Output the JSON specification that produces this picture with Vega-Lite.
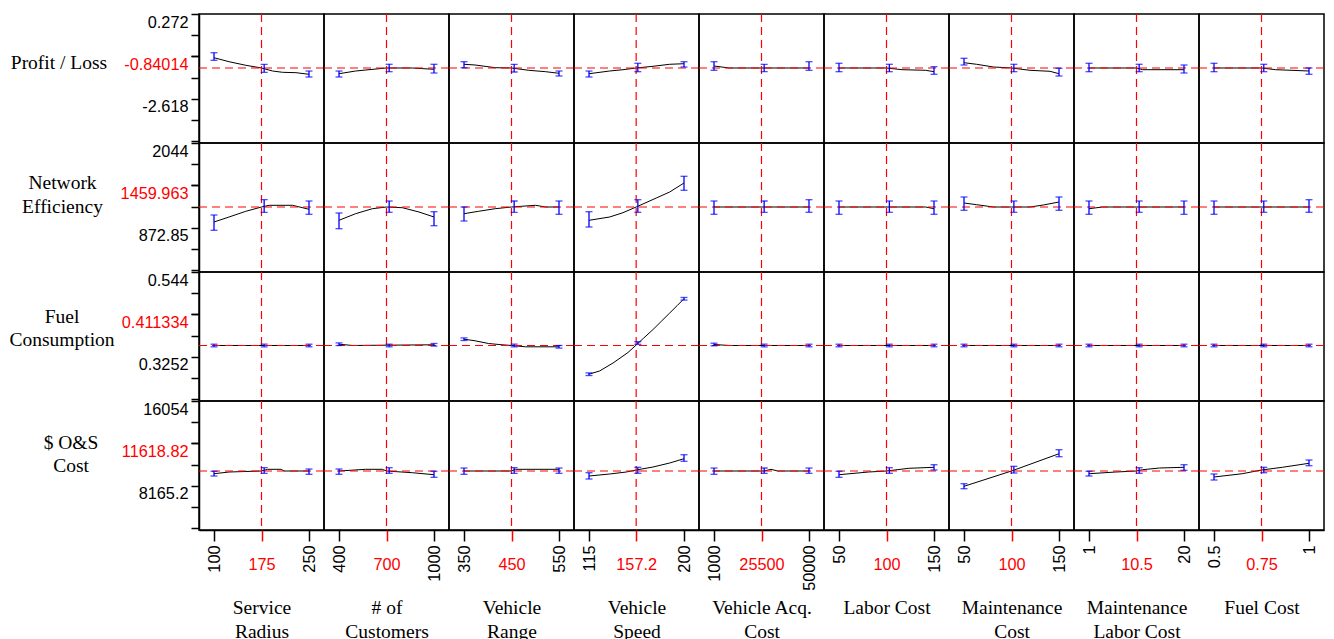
{
"$schema": "https://vega.github.io/schema/vega-lite/v6.json",
"background": "white",
"padding": {"left": 8, "top": 12, "right": 5, "bottom": 0},
"columns": 9,
"spacing": 0,
"bounds": "flush",
"align": "all",
"config": {
  "view": {"stroke": "black", "strokeWidth": 1.5},
  "axis": {"grid": false, "labelFont": "Liberation Sans", "labelFontSize": 16.3, "labelColor": "black", "tickColor": "black", "tickWidth": 1.5, "domainColor": "black", "domainWidth": 1.5, "labelOverlap": false, "labelFlush": false, "labelBound": false, "titleFont": "Liberation Serif", "titleFontSize": 19.5, "titleFontWeight": "normal", "titleColor": "black"},
  "axisX": {"tickSize": 11, "labelPadding": 4, "labelAngle": 270},
  "axisY": {"tickSize": 8, "labelPadding": 3, "labelOffset": 8, "titleAngle": 0, "titleAlign": "center", "titleBaseline": "alphabetic", "titleLineHeight": 23.5}
},
"data": {"values": [
{"r":1,"c":1,"k":"r","x":175,"y":-1.568},
{"r":1,"c":1,"k":"c","x":100,"y":-1.217},{"r":1,"c":1,"k":"c","x":123.8,"y":-1.354},{"r":1,"c":1,"k":"c","x":150.2,"y":-1.476},{"r":1,"c":1,"k":"c","x":175,"y":-1.568},{"r":1,"c":1,"k":"c","x":192.4,"y":-1.671},{"r":1,"c":1,"k":"c","x":208.3,"y":-1.715},{"r":1,"c":1,"k":"c","x":229.4,"y":-1.728},{"r":1,"c":1,"k":"c","x":250,"y":-1.783},
{"r":1,"c":1,"k":"e","x":100,"lo":-1.306,"hi":-1.047},{"r":1,"c":1,"k":"e","x":179.2,"lo":-1.715,"hi":-1.442},{"r":1,"c":1,"k":"e","x":250,"lo":-1.875,"hi":-1.671},
{"r":1,"c":2,"k":"r","x":700,"y":-1.568},
{"r":1,"c":2,"k":"c","x":400,"y":-1.763},{"r":1,"c":2,"k":"c","x":505,"y":-1.671},{"r":1,"c":2,"k":"c","x":589.5,"y":-1.626},{"r":1,"c":2,"k":"c","x":700,"y":-1.568},{"r":1,"c":2,"k":"c","x":863,"y":-1.568},{"r":1,"c":2,"k":"c","x":1000,"y":-1.613},
{"r":1,"c":2,"k":"e","x":400,"lo":-1.875,"hi":-1.671},{"r":1,"c":2,"k":"e","x":716.8,"lo":-1.694,"hi":-1.442},{"r":1,"c":2,"k":"e","x":1000,"lo":-1.739,"hi":-1.442},
{"r":1,"c":3,"k":"r","x":450,"y":-1.568},
{"r":1,"c":3,"k":"c","x":350,"y":-1.442},{"r":1,"c":3,"k":"c","x":373.3,"y":-1.466},{"r":1,"c":3,"k":"c","x":415.7,"y":-1.558},{"r":1,"c":3,"k":"c","x":450,"y":-1.568},{"r":1,"c":3,"k":"c","x":486.4,"y":-1.647},{"r":1,"c":3,"k":"c","x":521.7,"y":-1.694},{"r":1,"c":3,"k":"c","x":550,"y":-1.749},
{"r":1,"c":3,"k":"e","x":350,"lo":-1.558,"hi":-1.354},{"r":1,"c":3,"k":"e","x":455.6,"lo":-1.705,"hi":-1.442},{"r":1,"c":3,"k":"e","x":550,"lo":-1.841,"hi":-1.671},
{"r":1,"c":4,"k":"r","x":157.2,"y":-1.568},
{"r":1,"c":4,"k":"c","x":115,"y":-1.763},{"r":1,"c":4,"k":"c","x":133.5,"y":-1.671},{"r":1,"c":4,"k":"c","x":145.4,"y":-1.626},{"r":1,"c":4,"k":"c","x":157.2,"y":-1.568},{"r":1,"c":4,"k":"c","x":172.3,"y":-1.51},{"r":1,"c":4,"k":"c","x":187.2,"y":-1.442},{"r":1,"c":4,"k":"c","x":200,"y":-1.422},
{"r":1,"c":4,"k":"e","x":115,"lo":-1.875,"hi":-1.671},{"r":1,"c":4,"k":"e","x":158.7,"lo":-1.694,"hi":-1.408},{"r":1,"c":4,"k":"e","x":200,"lo":-1.534,"hi":-1.354},
{"r":1,"c":5,"k":"r","x":25500,"y":-1.568},
{"r":1,"c":5,"k":"c","x":1000,"y":-1.5},{"r":1,"c":5,"k":"c","x":8791,"y":-1.568},{"r":1,"c":5,"k":"c","x":50000,"y":-1.568},
{"r":1,"c":5,"k":"e","x":1000,"lo":-1.647,"hi":-1.354},{"r":1,"c":5,"k":"e","x":26872,"lo":-1.694,"hi":-1.442},{"r":1,"c":5,"k":"e","x":50000,"lo":-1.647,"hi":-1.354},
{"r":1,"c":6,"k":"r","x":100,"y":-1.568},
{"r":1,"c":6,"k":"c","x":50,"y":-1.568},{"r":1,"c":6,"k":"c","x":100,"y":-1.568},{"r":1,"c":6,"k":"c","x":116.4,"y":-1.626},{"r":1,"c":6,"k":"c","x":141.2,"y":-1.647},{"r":1,"c":6,"k":"c","x":150,"y":-1.694},
{"r":1,"c":6,"k":"e","x":50,"lo":-1.694,"hi":-1.408},{"r":1,"c":6,"k":"e","x":103,"lo":-1.694,"hi":-1.442},{"r":1,"c":6,"k":"e","x":150,"lo":-1.783,"hi":-1.524},
{"r":1,"c":7,"k":"r","x":100,"y":-1.568},
{"r":1,"c":7,"k":"c","x":50,"y":-1.388},{"r":1,"c":7,"k":"c","x":63.3,"y":-1.442},{"r":1,"c":7,"k":"c","x":80.9,"y":-1.534},{"r":1,"c":7,"k":"c","x":100,"y":-1.568},{"r":1,"c":7,"k":"c","x":119.5,"y":-1.647},{"r":1,"c":7,"k":"c","x":140.5,"y":-1.681},{"r":1,"c":7,"k":"c","x":150,"y":-1.763},
{"r":1,"c":7,"k":"e","x":50,"lo":-1.466,"hi":-1.238},{"r":1,"c":7,"k":"e","x":102.5,"lo":-1.694,"hi":-1.442},{"r":1,"c":7,"k":"e","x":150,"lo":-1.841,"hi":-1.578},
{"r":1,"c":8,"k":"r","x":10.5,"y":-1.568},
{"r":1,"c":8,"k":"c","x":1,"y":-1.568},{"r":1,"c":8,"k":"c","x":10.5,"y":-1.568},{"r":1,"c":8,"k":"c","x":11.7,"y":-1.626},{"r":1,"c":8,"k":"c","x":20,"y":-1.626},
{"r":1,"c":8,"k":"e","x":1,"lo":-1.694,"hi":-1.408},{"r":1,"c":8,"k":"e","x":11.03,"lo":-1.694,"hi":-1.442},{"r":1,"c":8,"k":"e","x":20,"lo":-1.739,"hi":-1.466},
{"r":1,"c":9,"k":"r","x":0.75,"y":-1.568},
{"r":1,"c":9,"k":"c","x":0.5,"y":-1.568},{"r":1,"c":9,"k":"c","x":0.75,"y":-1.568},{"r":1,"c":9,"k":"c","x":0.8246,"y":-1.626},{"r":1,"c":9,"k":"c","x":1,"y":-1.671},
{"r":1,"c":9,"k":"e","x":0.5,"lo":-1.694,"hi":-1.408},{"r":1,"c":9,"k":"e","x":0.762,"lo":-1.694,"hi":-1.442},{"r":1,"c":9,"k":"e","x":1,"lo":-1.783,"hi":-1.568},

{"r":2,"c":1,"k":"r","x":175,"y":1160.1},
{"r":2,"c":1,"k":"c","x":100,"y":953.0},{"r":2,"c":1,"k":"c","x":123.8,"y":1022.0},{"r":2,"c":1,"k":"c","x":150.2,"y":1100.7},{"r":2,"c":1,"k":"c","x":175,"y":1160.1},{"r":2,"c":1,"k":"c","x":187.1,"y":1183.6},{"r":2,"c":1,"k":"c","x":224.1,"y":1183.6},{"r":2,"c":1,"k":"c","x":250,"y":1128.4},
{"r":2,"c":1,"k":"e","x":100,"lo":838.3,"hi":1049.6},{"r":2,"c":1,"k":"e","x":179.2,"lo":1086.9,"hi":1260.9},{"r":2,"c":1,"k":"e","x":250,"lo":1059.3,"hi":1243.0},
{"r":2,"c":2,"k":"r","x":700,"y":1160.1},
{"r":2,"c":2,"k":"c","x":400,"y":976.4},{"r":2,"c":2,"k":"c","x":505,"y":1067.6},{"r":2,"c":2,"k":"c","x":610.5,"y":1136.6},{"r":2,"c":2,"k":"c","x":700,"y":1160.1},{"r":2,"c":2,"k":"c","x":800,"y":1150.5},{"r":2,"c":2,"k":"c","x":905,"y":1091.1},{"r":2,"c":2,"k":"c","x":1000,"y":1022.0},
{"r":2,"c":2,"k":"e","x":400,"lo":860.4,"hi":1077.2},{"r":2,"c":2,"k":"e","x":716.8,"lo":1086.9,"hi":1243.0},{"r":2,"c":2,"k":"e","x":1000,"lo":901.9,"hi":1095.2},
{"r":2,"c":3,"k":"r","x":450,"y":1160.1},
{"r":2,"c":3,"k":"c","x":350,"y":1067.6},{"r":2,"c":3,"k":"c","x":380.4,"y":1100.7},{"r":2,"c":3,"k":"c","x":415.7,"y":1136.6},{"r":2,"c":3,"k":"c","x":450,"y":1160.1},{"r":2,"c":3,"k":"c","x":500.5,"y":1183.6},{"r":2,"c":3,"k":"c","x":521.7,"y":1160.1},{"r":2,"c":3,"k":"c","x":550,"y":1160.1},
{"r":2,"c":3,"k":"e","x":350,"lo":966.8,"hi":1160.1},{"r":2,"c":3,"k":"e","x":455.6,"lo":1086.9,"hi":1243.0},{"r":2,"c":3,"k":"e","x":550,"lo":1059.3,"hi":1243.0},
{"r":2,"c":4,"k":"r","x":157.2,"y":1160.1},
{"r":2,"c":4,"k":"c","x":115,"y":976.4},{"r":2,"c":4,"k":"c","x":133.5,"y":1022.0},{"r":2,"c":4,"k":"c","x":145.4,"y":1081.4},{"r":2,"c":4,"k":"c","x":157.2,"y":1160.1},{"r":2,"c":4,"k":"c","x":175.2,"y":1284.4},{"r":2,"c":4,"k":"c","x":187.2,"y":1367.3},{"r":2,"c":4,"k":"c","x":200,"y":1491.6},
{"r":2,"c":4,"k":"e","x":115,"lo":883.9,"hi":1095.2},{"r":2,"c":4,"k":"e","x":158.7,"lo":1086.9,"hi":1260.9},{"r":2,"c":4,"k":"e","x":200,"lo":1390.8,"hi":1584.1},
{"r":2,"c":5,"k":"r","x":25500,"y":1160.1},
{"r":2,"c":5,"k":"c","x":1000,"y":1160.1},{"r":2,"c":5,"k":"c","x":50000,"y":1160.1},
{"r":2,"c":5,"k":"e","x":1000,"lo":1059.3,"hi":1243.0},{"r":2,"c":5,"k":"e","x":26872,"lo":1086.9,"hi":1243.0},{"r":2,"c":5,"k":"e","x":50000,"lo":1086.9,"hi":1260.9},
{"r":2,"c":6,"k":"r","x":100,"y":1160.1},
{"r":2,"c":6,"k":"c","x":50,"y":1160.1},{"r":2,"c":6,"k":"c","x":141.2,"y":1160.1},{"r":2,"c":6,"k":"c","x":150,"y":1136.6},
{"r":2,"c":6,"k":"e","x":50,"lo":1059.3,"hi":1243.0},{"r":2,"c":6,"k":"e","x":103,"lo":1086.9,"hi":1243.0},{"r":2,"c":6,"k":"e","x":150,"lo":1059.3,"hi":1243.0},
{"r":2,"c":7,"k":"r","x":100,"y":1160.1},
{"r":2,"c":7,"k":"c","x":50,"y":1215.4},{"r":2,"c":7,"k":"c","x":63.3,"y":1191.9},{"r":2,"c":7,"k":"c","x":80.9,"y":1160.1},{"r":2,"c":7,"k":"c","x":100,"y":1160.1},{"r":2,"c":7,"k":"c","x":119.5,"y":1160.1},{"r":2,"c":7,"k":"c","x":133.5,"y":1187.7},{"r":2,"c":7,"k":"c","x":150,"y":1229.2},
{"r":2,"c":7,"k":"e","x":50,"lo":1114.5,"hi":1298.2},{"r":2,"c":7,"k":"e","x":102.5,"lo":1086.9,"hi":1243.0},{"r":2,"c":7,"k":"e","x":150,"lo":1114.5,"hi":1298.2},
{"r":2,"c":8,"k":"r","x":10.5,"y":1160.1},
{"r":2,"c":8,"k":"c","x":1,"y":1136.6},{"r":2,"c":8,"k":"c","x":3.7,"y":1160.1},{"r":2,"c":8,"k":"c","x":20,"y":1160.1},
{"r":2,"c":8,"k":"e","x":1,"lo":1059.3,"hi":1243.0},{"r":2,"c":8,"k":"e","x":11.03,"lo":1086.9,"hi":1243.0},{"r":2,"c":8,"k":"e","x":20,"lo":1059.3,"hi":1243.0},
{"r":2,"c":9,"k":"r","x":0.75,"y":1160.1},
{"r":2,"c":9,"k":"c","x":0.5,"y":1160.1},{"r":2,"c":9,"k":"c","x":1,"y":1160.1},
{"r":2,"c":9,"k":"e","x":0.5,"lo":1059.3,"hi":1243.0},{"r":2,"c":9,"k":"e","x":0.762,"lo":1086.9,"hi":1243.0},{"r":2,"c":9,"k":"e","x":1,"lo":1086.9,"hi":1260.9},

{"r":3,"c":1,"k":"r","x":175,"y":0.3544},
{"r":3,"c":1,"k":"c","x":100,"y":0.3544},{"r":3,"c":1,"k":"c","x":250,"y":0.3544},
{"r":3,"c":1,"k":"e","x":100,"lo":0.351,"hi":0.3577},{"r":3,"c":1,"k":"e","x":179.2,"lo":0.351,"hi":0.3577},{"r":3,"c":1,"k":"e","x":250,"lo":0.351,"hi":0.3577},
{"r":3,"c":2,"k":"r","x":700,"y":0.3544},
{"r":3,"c":2,"k":"c","x":400,"y":0.3577},{"r":3,"c":2,"k":"c","x":484,"y":0.3544},{"r":3,"c":2,"k":"c","x":1000,"y":0.3562},
{"r":3,"c":2,"k":"e","x":400,"lo":0.3543,"hi":0.3611},{"r":3,"c":2,"k":"e","x":716.8,"lo":0.351,"hi":0.3577},{"r":3,"c":2,"k":"e","x":1000,"lo":0.3528,"hi":0.3596},
{"r":3,"c":3,"k":"r","x":450,"y":0.3544},
{"r":3,"c":3,"k":"c","x":350,"y":0.3706},{"r":3,"c":3,"k":"c","x":373.3,"y":0.3665},{"r":3,"c":3,"k":"c","x":401.6,"y":0.3595},{"r":3,"c":3,"k":"c","x":429.9,"y":0.3562},{"r":3,"c":3,"k":"c","x":450,"y":0.3544},{"r":3,"c":3,"k":"c","x":479.3,"y":0.351},{"r":3,"c":3,"k":"c","x":550,"y":0.351},
{"r":3,"c":3,"k":"e","x":350,"lo":0.3672,"hi":0.374},{"r":3,"c":3,"k":"e","x":455.6,"lo":0.351,"hi":0.3577},{"r":3,"c":3,"k":"e","x":550,"lo":0.3476,"hi":0.3544},
{"r":3,"c":4,"k":"r","x":157.2,"y":0.3544},
{"r":3,"c":4,"k":"c","x":115,"y":0.2803},{"r":3,"c":4,"k":"c","x":124.5,"y":0.2886},{"r":3,"c":4,"k":"c","x":136.5,"y":0.3092},{"r":3,"c":4,"k":"c","x":149.9,"y":0.3363},{"r":3,"c":4,"k":"c","x":157.2,"y":0.3556},{"r":3,"c":4,"k":"c","x":164,"y":0.3737},{"r":3,"c":4,"k":"c","x":172.3,"y":0.3956},{"r":3,"c":4,"k":"c","x":180,"y":0.4176},{"r":3,"c":4,"k":"c","x":187.2,"y":0.4382},{"r":3,"c":4,"k":"c","x":194,"y":0.4576},{"r":3,"c":4,"k":"c","x":200,"y":0.4749},
{"r":3,"c":4,"k":"e","x":115,"lo":0.2769,"hi":0.2837},{"r":3,"c":4,"k":"e","x":158.7,"lo":0.3574,"hi":0.3642},{"r":3,"c":4,"k":"e","x":200,"lo":0.4715,"hi":0.4783},
{"r":3,"c":5,"k":"r","x":25500,"y":0.3544},
{"r":3,"c":5,"k":"c","x":1000,"y":0.3569},{"r":3,"c":5,"k":"c","x":8791,"y":0.3544},{"r":3,"c":5,"k":"c","x":50000,"y":0.3544},
{"r":3,"c":5,"k":"e","x":1000,"lo":0.3535,"hi":0.3603},{"r":3,"c":5,"k":"e","x":26872,"lo":0.351,"hi":0.3577},{"r":3,"c":5,"k":"e","x":50000,"lo":0.351,"hi":0.3577},
{"r":3,"c":6,"k":"r","x":100,"y":0.3544},
{"r":3,"c":6,"k":"c","x":50,"y":0.3544},{"r":3,"c":6,"k":"c","x":150,"y":0.3544},
{"r":3,"c":6,"k":"e","x":50,"lo":0.351,"hi":0.3577},{"r":3,"c":6,"k":"e","x":103,"lo":0.351,"hi":0.3577},{"r":3,"c":6,"k":"e","x":150,"lo":0.351,"hi":0.3577},
{"r":3,"c":7,"k":"r","x":100,"y":0.3544},
{"r":3,"c":7,"k":"c","x":50,"y":0.3544},{"r":3,"c":7,"k":"c","x":150,"y":0.3544},
{"r":3,"c":7,"k":"e","x":50,"lo":0.351,"hi":0.3577},{"r":3,"c":7,"k":"e","x":102.5,"lo":0.351,"hi":0.3577},{"r":3,"c":7,"k":"e","x":150,"lo":0.351,"hi":0.3577},
{"r":3,"c":8,"k":"r","x":10.5,"y":0.3544},
{"r":3,"c":8,"k":"c","x":1,"y":0.3544},{"r":3,"c":8,"k":"c","x":20,"y":0.3544},
{"r":3,"c":8,"k":"e","x":1,"lo":0.351,"hi":0.3577},{"r":3,"c":8,"k":"e","x":11.03,"lo":0.351,"hi":0.3577},{"r":3,"c":8,"k":"e","x":20,"lo":0.351,"hi":0.3577},
{"r":3,"c":9,"k":"r","x":0.75,"y":0.3544},
{"r":3,"c":9,"k":"c","x":0.5,"y":0.3544},{"r":3,"c":9,"k":"c","x":1,"y":0.3544},
{"r":3,"c":9,"k":"e","x":0.5,"lo":0.351,"hi":0.3577},{"r":3,"c":9,"k":"e","x":0.762,"lo":0.351,"hi":0.3577},{"r":3,"c":9,"k":"e","x":1,"lo":0.351,"hi":0.3577},

{"r":4,"c":1,"k":"r","x":175,"y":9541},
{"r":4,"c":1,"k":"c","x":100,"y":9289.8},{"r":4,"c":1,"k":"c","x":123.8,"y":9448.0},{"r":4,"c":1,"k":"c","x":175,"y":9541},{"r":4,"c":1,"k":"c","x":184.5,"y":9699.1},{"r":4,"c":1,"k":"c","x":205.6,"y":9699.1},{"r":4,"c":1,"k":"c","x":210.9,"y":9541},{"r":4,"c":1,"k":"c","x":250,"y":9541},
{"r":4,"c":1,"k":"e","x":100,"lo":9075.9,"hi":9513.1},{"r":4,"c":1,"k":"e","x":179.2,"lo":9327.0,"hi":9848.0},{"r":4,"c":1,"k":"e","x":250,"lo":9234.0,"hi":9727.1},
{"r":4,"c":2,"k":"r","x":700,"y":9541},
{"r":4,"c":2,"k":"c","x":400,"y":9541},{"r":4,"c":2,"k":"c","x":568.4,"y":9699.1},{"r":4,"c":2,"k":"c","x":673.7,"y":9699.1},{"r":4,"c":2,"k":"c","x":700,"y":9541},{"r":4,"c":2,"k":"c","x":863,"y":9382.9},{"r":4,"c":2,"k":"c","x":1000,"y":9196.8},
{"r":4,"c":2,"k":"e","x":400,"lo":9234.0,"hi":9727.1},{"r":4,"c":2,"k":"e","x":716.8,"lo":9327.0,"hi":9848.0},{"r":4,"c":2,"k":"e","x":1000,"lo":8954.9,"hi":9513.1},
{"r":4,"c":3,"k":"r","x":450,"y":9541},
{"r":4,"c":3,"k":"c","x":350,"y":9541},{"r":4,"c":3,"k":"c","x":450,"y":9541},{"r":4,"c":3,"k":"c","x":458.1,"y":9699.1},{"r":4,"c":3,"k":"c","x":550,"y":9699.1},
{"r":4,"c":3,"k":"e","x":350,"lo":9234.0,"hi":9820.1},{"r":4,"c":3,"k":"e","x":455.6,"lo":9327.0,"hi":9848.0},{"r":4,"c":3,"k":"e","x":550,"lo":9327.0,"hi":9820.1},
{"r":4,"c":4,"k":"r","x":157.2,"y":9541},
{"r":4,"c":4,"k":"c","x":115,"y":9075.9},{"r":4,"c":4,"k":"c","x":133.5,"y":9261.9},{"r":4,"c":4,"k":"c","x":148.4,"y":9448.0},{"r":4,"c":4,"k":"c","x":157.2,"y":9634.0},{"r":4,"c":4,"k":"c","x":172.3,"y":9913.1},{"r":4,"c":4,"k":"c","x":187.2,"y":10285.2},{"r":4,"c":4,"k":"c","x":200,"y":10685.2},
{"r":4,"c":4,"k":"e","x":115,"lo":8796.8,"hi":9382.9},{"r":4,"c":4,"k":"e","x":158.7,"lo":9327.0,"hi":9885.2},{"r":4,"c":4,"k":"e","x":200,"lo":10443.4,"hi":11057.4},
{"r":4,"c":5,"k":"r","x":25500,"y":9541},
{"r":4,"c":5,"k":"c","x":1000,"y":9541},{"r":4,"c":5,"k":"c","x":26872,"y":9541},{"r":4,"c":5,"k":"c","x":30400,"y":9699.1},{"r":4,"c":5,"k":"c","x":33880,"y":9541},{"r":4,"c":5,"k":"c","x":50000,"y":9541},
{"r":4,"c":5,"k":"e","x":1000,"lo":9234.0,"hi":9820.1},{"r":4,"c":5,"k":"e","x":26872,"lo":9327.0,"hi":9820.1},{"r":4,"c":5,"k":"e","x":50000,"lo":9327.0,"hi":9820.1},
{"r":4,"c":6,"k":"r","x":100,"y":9541},
{"r":4,"c":6,"k":"c","x":50,"y":9196.8},{"r":4,"c":6,"k":"c","x":81.1,"y":9448.0},{"r":4,"c":6,"k":"c","x":100,"y":9541},{"r":4,"c":6,"k":"c","x":123.5,"y":9792.2},{"r":4,"c":6,"k":"c","x":150,"y":9885.2},
{"r":4,"c":6,"k":"e","x":50,"lo":8954.9,"hi":9513.1},{"r":4,"c":6,"k":"e","x":103,"lo":9327.0,"hi":9848.0},{"r":4,"c":6,"k":"e","x":150,"lo":9634.0,"hi":10127.1},
{"r":4,"c":7,"k":"r","x":100,"y":9541},
{"r":4,"c":7,"k":"c","x":50,"y":8117.7},{"r":4,"c":7,"k":"c","x":100,"y":9541},{"r":4,"c":7,"k":"c","x":150,"y":11150.4},
{"r":4,"c":7,"k":"e","x":50,"lo":7894.4,"hi":8359.5},{"r":4,"c":7,"k":"e","x":102.5,"lo":9354.9,"hi":9978.2},{"r":4,"c":7,"k":"e","x":150,"lo":10871.3,"hi":11522.5},
{"r":4,"c":8,"k":"r","x":10.5,"y":9541},
{"r":4,"c":8,"k":"c","x":1,"y":9289.8},{"r":4,"c":8,"k":"c","x":6.37,"y":9448.0},{"r":4,"c":8,"k":"c","x":10.5,"y":9541},{"r":4,"c":8,"k":"c","x":11.7,"y":9661.9},{"r":4,"c":8,"k":"c","x":15.1,"y":9820.1},{"r":4,"c":8,"k":"c","x":20,"y":9885.2},
{"r":4,"c":8,"k":"e","x":1,"lo":9075.9,"hi":9513.1},{"r":4,"c":8,"k":"e","x":11.03,"lo":9327.0,"hi":9848.0},{"r":4,"c":8,"k":"e","x":20,"lo":9606.1,"hi":10127.1},
{"r":4,"c":9,"k":"r","x":0.75,"y":9541},
{"r":4,"c":9,"k":"c","x":0.5,"y":8982.8},{"r":4,"c":9,"k":"c","x":0.649,"y":9289.8},{"r":4,"c":9,"k":"c","x":0.75,"y":9634.0},{"r":4,"c":9,"k":"c","x":0.8596,"y":9885.2},{"r":4,"c":9,"k":"c","x":1,"y":10257.3},
{"r":4,"c":9,"k":"e","x":0.5,"lo":8703.7,"hi":9261.9},{"r":4,"c":9,"k":"e","x":0.762,"lo":9382.9,"hi":9885.2},{"r":4,"c":9,"k":"e","x":1,"lo":10034.0,"hi":10564.3}
]},
"concat": [
{"width":125,"height":129,"transform":[{"filter":"datum.r==1&&datum.c==1"}],"resolve":{"axis":{"y":"independent"}},"layer":[
{"transform":[{"filter":"datum.k=='c'"}],"mark":{"type":"line","color":"black","strokeWidth":1},"encoding":{"x":{"field":"x","type":"quantitative","scale":{"domain":[100,250],"padding":15,"zero":false,"nice":false},"axis":null},"y":{"field":"y","type":"quantitative","scale":{"domain":[-4.1244,0.272],"zero":false,"nice":false},"axis":{"orient":"left","values":[0.272,-0.4505,-1.173,-1.8955,-2.618,-3.3405,-4.063],"labelExpr":"datum.value==0.272?'0.272':datum.value==-2.618?'-2.618':''","title":"Profit / Loss","titleX":-140.5,"titleY":54.5}}}},
{"transform":[{"filter":"datum.k=='r'"}],"mark":{"type":"rule","color":"#ff0000","strokeDash":[8,5],"strokeWidth":1.2},"encoding":{"y":{"field":"y","type":"quantitative","axis":{"orient":"left","values":[-1.173],"labelExpr":"'-0.84014'","labelColor":"#ff0000","domain":false,"title":null}}}},
{"transform":[{"filter":"datum.k=='r'"}],"mark":{"type":"rule","color":"#ff0000","strokeDash":[8,5],"strokeWidth":1.2},"encoding":{"x":{"field":"x","type":"quantitative","axis":null}}},
{"transform":[{"filter":"datum.k=='e'"}],"mark":{"type":"errorbar","ticks":true,"color":"#0000ff","size":7,"thickness":1.3},"encoding":{"x":{"field":"x","type":"quantitative","axis":null},"y":{"field":"lo","type":"quantitative","axis":null},"y2":{"field":"hi"}}}
]},
{"width":125,"height":129,"transform":[{"filter":"datum.r==1&&datum.c==2"}],"layer":[
{"transform":[{"filter":"datum.k=='c'"}],"mark":{"type":"line","color":"black","strokeWidth":1},"encoding":{"x":{"field":"x","type":"quantitative","scale":{"domain":[400,1000],"padding":15,"zero":false,"nice":false},"axis":null},"y":{"field":"y","type":"quantitative","scale":{"domain":[-4.1244,0.272],"zero":false,"nice":false},"axis":null}}},
{"transform":[{"filter":"datum.k=='r'"}],"mark":{"type":"rule","color":"#ff0000","strokeDash":[8,5],"strokeWidth":1.2},"encoding":{"y":{"field":"y","type":"quantitative","axis":null}}},
{"transform":[{"filter":"datum.k=='r'"}],"mark":{"type":"rule","color":"#ff0000","strokeDash":[8,5],"strokeWidth":1.2},"encoding":{"x":{"field":"x","type":"quantitative","axis":null}}},
{"transform":[{"filter":"datum.k=='e'"}],"mark":{"type":"errorbar","ticks":true,"color":"#0000ff","size":7,"thickness":1.3},"encoding":{"x":{"field":"x","type":"quantitative","axis":null},"y":{"field":"lo","type":"quantitative","axis":null},"y2":{"field":"hi"}}}
]},
{"width":125,"height":129,"transform":[{"filter":"datum.r==1&&datum.c==3"}],"layer":[
{"transform":[{"filter":"datum.k=='c'"}],"mark":{"type":"line","color":"black","strokeWidth":1},"encoding":{"x":{"field":"x","type":"quantitative","scale":{"domain":[350,550],"padding":15,"zero":false,"nice":false},"axis":null},"y":{"field":"y","type":"quantitative","scale":{"domain":[-4.1244,0.272],"zero":false,"nice":false},"axis":null}}},
{"transform":[{"filter":"datum.k=='r'"}],"mark":{"type":"rule","color":"#ff0000","strokeDash":[8,5],"strokeWidth":1.2},"encoding":{"y":{"field":"y","type":"quantitative","axis":null}}},
{"transform":[{"filter":"datum.k=='r'"}],"mark":{"type":"rule","color":"#ff0000","strokeDash":[8,5],"strokeWidth":1.2},"encoding":{"x":{"field":"x","type":"quantitative","axis":null}}},
{"transform":[{"filter":"datum.k=='e'"}],"mark":{"type":"errorbar","ticks":true,"color":"#0000ff","size":7,"thickness":1.3},"encoding":{"x":{"field":"x","type":"quantitative","axis":null},"y":{"field":"lo","type":"quantitative","axis":null},"y2":{"field":"hi"}}}
]},
{"width":125,"height":129,"transform":[{"filter":"datum.r==1&&datum.c==4"}],"layer":[
{"transform":[{"filter":"datum.k=='c'"}],"mark":{"type":"line","color":"black","strokeWidth":1},"encoding":{"x":{"field":"x","type":"quantitative","scale":{"domain":[115,200],"padding":15,"zero":false,"nice":false},"axis":null},"y":{"field":"y","type":"quantitative","scale":{"domain":[-4.1244,0.272],"zero":false,"nice":false},"axis":null}}},
{"transform":[{"filter":"datum.k=='r'"}],"mark":{"type":"rule","color":"#ff0000","strokeDash":[8,5],"strokeWidth":1.2},"encoding":{"y":{"field":"y","type":"quantitative","axis":null}}},
{"transform":[{"filter":"datum.k=='r'"}],"mark":{"type":"rule","color":"#ff0000","strokeDash":[8,5],"strokeWidth":1.2},"encoding":{"x":{"field":"x","type":"quantitative","axis":null}}},
{"transform":[{"filter":"datum.k=='e'"}],"mark":{"type":"errorbar","ticks":true,"color":"#0000ff","size":7,"thickness":1.3},"encoding":{"x":{"field":"x","type":"quantitative","axis":null},"y":{"field":"lo","type":"quantitative","axis":null},"y2":{"field":"hi"}}}
]},
{"width":125,"height":129,"transform":[{"filter":"datum.r==1&&datum.c==5"}],"layer":[
{"transform":[{"filter":"datum.k=='c'"}],"mark":{"type":"line","color":"black","strokeWidth":1},"encoding":{"x":{"field":"x","type":"quantitative","scale":{"domain":[1000,50000],"padding":15,"zero":false,"nice":false},"axis":null},"y":{"field":"y","type":"quantitative","scale":{"domain":[-4.1244,0.272],"zero":false,"nice":false},"axis":null}}},
{"transform":[{"filter":"datum.k=='r'"}],"mark":{"type":"rule","color":"#ff0000","strokeDash":[8,5],"strokeWidth":1.2},"encoding":{"y":{"field":"y","type":"quantitative","axis":null}}},
{"transform":[{"filter":"datum.k=='r'"}],"mark":{"type":"rule","color":"#ff0000","strokeDash":[8,5],"strokeWidth":1.2},"encoding":{"x":{"field":"x","type":"quantitative","axis":null}}},
{"transform":[{"filter":"datum.k=='e'"}],"mark":{"type":"errorbar","ticks":true,"color":"#0000ff","size":7,"thickness":1.3},"encoding":{"x":{"field":"x","type":"quantitative","axis":null},"y":{"field":"lo","type":"quantitative","axis":null},"y2":{"field":"hi"}}}
]},
{"width":125,"height":129,"transform":[{"filter":"datum.r==1&&datum.c==6"}],"layer":[
{"transform":[{"filter":"datum.k=='c'"}],"mark":{"type":"line","color":"black","strokeWidth":1},"encoding":{"x":{"field":"x","type":"quantitative","scale":{"domain":[50,150],"padding":15,"zero":false,"nice":false},"axis":null},"y":{"field":"y","type":"quantitative","scale":{"domain":[-4.1244,0.272],"zero":false,"nice":false},"axis":null}}},
{"transform":[{"filter":"datum.k=='r'"}],"mark":{"type":"rule","color":"#ff0000","strokeDash":[8,5],"strokeWidth":1.2},"encoding":{"y":{"field":"y","type":"quantitative","axis":null}}},
{"transform":[{"filter":"datum.k=='r'"}],"mark":{"type":"rule","color":"#ff0000","strokeDash":[8,5],"strokeWidth":1.2},"encoding":{"x":{"field":"x","type":"quantitative","axis":null}}},
{"transform":[{"filter":"datum.k=='e'"}],"mark":{"type":"errorbar","ticks":true,"color":"#0000ff","size":7,"thickness":1.3},"encoding":{"x":{"field":"x","type":"quantitative","axis":null},"y":{"field":"lo","type":"quantitative","axis":null},"y2":{"field":"hi"}}}
]},
{"width":125,"height":129,"transform":[{"filter":"datum.r==1&&datum.c==7"}],"layer":[
{"transform":[{"filter":"datum.k=='c'"}],"mark":{"type":"line","color":"black","strokeWidth":1},"encoding":{"x":{"field":"x","type":"quantitative","scale":{"domain":[50,150],"padding":15,"zero":false,"nice":false},"axis":null},"y":{"field":"y","type":"quantitative","scale":{"domain":[-4.1244,0.272],"zero":false,"nice":false},"axis":null}}},
{"transform":[{"filter":"datum.k=='r'"}],"mark":{"type":"rule","color":"#ff0000","strokeDash":[8,5],"strokeWidth":1.2},"encoding":{"y":{"field":"y","type":"quantitative","axis":null}}},
{"transform":[{"filter":"datum.k=='r'"}],"mark":{"type":"rule","color":"#ff0000","strokeDash":[8,5],"strokeWidth":1.2},"encoding":{"x":{"field":"x","type":"quantitative","axis":null}}},
{"transform":[{"filter":"datum.k=='e'"}],"mark":{"type":"errorbar","ticks":true,"color":"#0000ff","size":7,"thickness":1.3},"encoding":{"x":{"field":"x","type":"quantitative","axis":null},"y":{"field":"lo","type":"quantitative","axis":null},"y2":{"field":"hi"}}}
]},
{"width":125,"height":129,"transform":[{"filter":"datum.r==1&&datum.c==8"}],"layer":[
{"transform":[{"filter":"datum.k=='c'"}],"mark":{"type":"line","color":"black","strokeWidth":1},"encoding":{"x":{"field":"x","type":"quantitative","scale":{"domain":[1,20],"padding":15,"zero":false,"nice":false},"axis":null},"y":{"field":"y","type":"quantitative","scale":{"domain":[-4.1244,0.272],"zero":false,"nice":false},"axis":null}}},
{"transform":[{"filter":"datum.k=='r'"}],"mark":{"type":"rule","color":"#ff0000","strokeDash":[8,5],"strokeWidth":1.2},"encoding":{"y":{"field":"y","type":"quantitative","axis":null}}},
{"transform":[{"filter":"datum.k=='r'"}],"mark":{"type":"rule","color":"#ff0000","strokeDash":[8,5],"strokeWidth":1.2},"encoding":{"x":{"field":"x","type":"quantitative","axis":null}}},
{"transform":[{"filter":"datum.k=='e'"}],"mark":{"type":"errorbar","ticks":true,"color":"#0000ff","size":7,"thickness":1.3},"encoding":{"x":{"field":"x","type":"quantitative","axis":null},"y":{"field":"lo","type":"quantitative","axis":null},"y2":{"field":"hi"}}}
]},
{"width":125,"height":129,"transform":[{"filter":"datum.r==1&&datum.c==9"}],"layer":[
{"transform":[{"filter":"datum.k=='c'"}],"mark":{"type":"line","color":"black","strokeWidth":1},"encoding":{"x":{"field":"x","type":"quantitative","scale":{"domain":[0.5,1],"padding":15,"zero":false,"nice":false},"axis":null},"y":{"field":"y","type":"quantitative","scale":{"domain":[-4.1244,0.272],"zero":false,"nice":false},"axis":null}}},
{"transform":[{"filter":"datum.k=='r'"}],"mark":{"type":"rule","color":"#ff0000","strokeDash":[8,5],"strokeWidth":1.2},"encoding":{"y":{"field":"y","type":"quantitative","axis":null}}},
{"transform":[{"filter":"datum.k=='r'"}],"mark":{"type":"rule","color":"#ff0000","strokeDash":[8,5],"strokeWidth":1.2},"encoding":{"x":{"field":"x","type":"quantitative","axis":null}}},
{"transform":[{"filter":"datum.k=='e'"}],"mark":{"type":"errorbar","ticks":true,"color":"#0000ff","size":7,"thickness":1.3},"encoding":{"x":{"field":"x","type":"quantitative","axis":null},"y":{"field":"lo","type":"quantitative","axis":null},"y2":{"field":"hi"}}}
]},

{"width":125,"height":129,"transform":[{"filter":"datum.r==2&&datum.c==1"}],"resolve":{"axis":{"y":"independent"}},"layer":[
{"transform":[{"filter":"datum.k=='c'"}],"mark":{"type":"line","color":"black","strokeWidth":1},"encoding":{"x":{"field":"x","type":"quantitative","scale":{"domain":[100,250],"padding":15,"zero":false,"nice":false},"axis":null},"y":{"field":"y","type":"quantitative","scale":{"domain":[262.39,2044],"zero":false,"nice":false},"axis":{"orient":"left","values":[2044,1751.2125,1458.425,1165.6375,872.85,580.0625,287.275],"labelExpr":"datum.value==2044?'2044':datum.value==872.85?'872.85':''","title":["Network","Efficiency"],"titleX":-137,"titleY":45.6}}}},
{"transform":[{"filter":"datum.k=='r'"}],"mark":{"type":"rule","color":"#ff0000","strokeDash":[8,5],"strokeWidth":1.2},"encoding":{"y":{"field":"y","type":"quantitative","axis":{"orient":"left","values":[1458.425],"labelExpr":"'1459.963'","labelColor":"#ff0000","domain":false,"title":null}}}},
{"transform":[{"filter":"datum.k=='r'"}],"mark":{"type":"rule","color":"#ff0000","strokeDash":[8,5],"strokeWidth":1.2},"encoding":{"x":{"field":"x","type":"quantitative","axis":null}}},
{"transform":[{"filter":"datum.k=='e'"}],"mark":{"type":"errorbar","ticks":true,"color":"#0000ff","size":7,"thickness":1.3},"encoding":{"x":{"field":"x","type":"quantitative","axis":null},"y":{"field":"lo","type":"quantitative","axis":null},"y2":{"field":"hi"}}}
]},
{"width":125,"height":129,"transform":[{"filter":"datum.r==2&&datum.c==2"}],"layer":[
{"transform":[{"filter":"datum.k=='c'"}],"mark":{"type":"line","color":"black","strokeWidth":1},"encoding":{"x":{"field":"x","type":"quantitative","scale":{"domain":[400,1000],"padding":15,"zero":false,"nice":false},"axis":null},"y":{"field":"y","type":"quantitative","scale":{"domain":[262.39,2044],"zero":false,"nice":false},"axis":null}}},
{"transform":[{"filter":"datum.k=='r'"}],"mark":{"type":"rule","color":"#ff0000","strokeDash":[8,5],"strokeWidth":1.2},"encoding":{"y":{"field":"y","type":"quantitative","axis":null}}},
{"transform":[{"filter":"datum.k=='r'"}],"mark":{"type":"rule","color":"#ff0000","strokeDash":[8,5],"strokeWidth":1.2},"encoding":{"x":{"field":"x","type":"quantitative","axis":null}}},
{"transform":[{"filter":"datum.k=='e'"}],"mark":{"type":"errorbar","ticks":true,"color":"#0000ff","size":7,"thickness":1.3},"encoding":{"x":{"field":"x","type":"quantitative","axis":null},"y":{"field":"lo","type":"quantitative","axis":null},"y2":{"field":"hi"}}}
]},
{"width":125,"height":129,"transform":[{"filter":"datum.r==2&&datum.c==3"}],"layer":[
{"transform":[{"filter":"datum.k=='c'"}],"mark":{"type":"line","color":"black","strokeWidth":1},"encoding":{"x":{"field":"x","type":"quantitative","scale":{"domain":[350,550],"padding":15,"zero":false,"nice":false},"axis":null},"y":{"field":"y","type":"quantitative","scale":{"domain":[262.39,2044],"zero":false,"nice":false},"axis":null}}},
{"transform":[{"filter":"datum.k=='r'"}],"mark":{"type":"rule","color":"#ff0000","strokeDash":[8,5],"strokeWidth":1.2},"encoding":{"y":{"field":"y","type":"quantitative","axis":null}}},
{"transform":[{"filter":"datum.k=='r'"}],"mark":{"type":"rule","color":"#ff0000","strokeDash":[8,5],"strokeWidth":1.2},"encoding":{"x":{"field":"x","type":"quantitative","axis":null}}},
{"transform":[{"filter":"datum.k=='e'"}],"mark":{"type":"errorbar","ticks":true,"color":"#0000ff","size":7,"thickness":1.3},"encoding":{"x":{"field":"x","type":"quantitative","axis":null},"y":{"field":"lo","type":"quantitative","axis":null},"y2":{"field":"hi"}}}
]},
{"width":125,"height":129,"transform":[{"filter":"datum.r==2&&datum.c==4"}],"layer":[
{"transform":[{"filter":"datum.k=='c'"}],"mark":{"type":"line","color":"black","strokeWidth":1},"encoding":{"x":{"field":"x","type":"quantitative","scale":{"domain":[115,200],"padding":15,"zero":false,"nice":false},"axis":null},"y":{"field":"y","type":"quantitative","scale":{"domain":[262.39,2044],"zero":false,"nice":false},"axis":null}}},
{"transform":[{"filter":"datum.k=='r'"}],"mark":{"type":"rule","color":"#ff0000","strokeDash":[8,5],"strokeWidth":1.2},"encoding":{"y":{"field":"y","type":"quantitative","axis":null}}},
{"transform":[{"filter":"datum.k=='r'"}],"mark":{"type":"rule","color":"#ff0000","strokeDash":[8,5],"strokeWidth":1.2},"encoding":{"x":{"field":"x","type":"quantitative","axis":null}}},
{"transform":[{"filter":"datum.k=='e'"}],"mark":{"type":"errorbar","ticks":true,"color":"#0000ff","size":7,"thickness":1.3},"encoding":{"x":{"field":"x","type":"quantitative","axis":null},"y":{"field":"lo","type":"quantitative","axis":null},"y2":{"field":"hi"}}}
]},
{"width":125,"height":129,"transform":[{"filter":"datum.r==2&&datum.c==5"}],"layer":[
{"transform":[{"filter":"datum.k=='c'"}],"mark":{"type":"line","color":"black","strokeWidth":1},"encoding":{"x":{"field":"x","type":"quantitative","scale":{"domain":[1000,50000],"padding":15,"zero":false,"nice":false},"axis":null},"y":{"field":"y","type":"quantitative","scale":{"domain":[262.39,2044],"zero":false,"nice":false},"axis":null}}},
{"transform":[{"filter":"datum.k=='r'"}],"mark":{"type":"rule","color":"#ff0000","strokeDash":[8,5],"strokeWidth":1.2},"encoding":{"y":{"field":"y","type":"quantitative","axis":null}}},
{"transform":[{"filter":"datum.k=='r'"}],"mark":{"type":"rule","color":"#ff0000","strokeDash":[8,5],"strokeWidth":1.2},"encoding":{"x":{"field":"x","type":"quantitative","axis":null}}},
{"transform":[{"filter":"datum.k=='e'"}],"mark":{"type":"errorbar","ticks":true,"color":"#0000ff","size":7,"thickness":1.3},"encoding":{"x":{"field":"x","type":"quantitative","axis":null},"y":{"field":"lo","type":"quantitative","axis":null},"y2":{"field":"hi"}}}
]},
{"width":125,"height":129,"transform":[{"filter":"datum.r==2&&datum.c==6"}],"layer":[
{"transform":[{"filter":"datum.k=='c'"}],"mark":{"type":"line","color":"black","strokeWidth":1},"encoding":{"x":{"field":"x","type":"quantitative","scale":{"domain":[50,150],"padding":15,"zero":false,"nice":false},"axis":null},"y":{"field":"y","type":"quantitative","scale":{"domain":[262.39,2044],"zero":false,"nice":false},"axis":null}}},
{"transform":[{"filter":"datum.k=='r'"}],"mark":{"type":"rule","color":"#ff0000","strokeDash":[8,5],"strokeWidth":1.2},"encoding":{"y":{"field":"y","type":"quantitative","axis":null}}},
{"transform":[{"filter":"datum.k=='r'"}],"mark":{"type":"rule","color":"#ff0000","strokeDash":[8,5],"strokeWidth":1.2},"encoding":{"x":{"field":"x","type":"quantitative","axis":null}}},
{"transform":[{"filter":"datum.k=='e'"}],"mark":{"type":"errorbar","ticks":true,"color":"#0000ff","size":7,"thickness":1.3},"encoding":{"x":{"field":"x","type":"quantitative","axis":null},"y":{"field":"lo","type":"quantitative","axis":null},"y2":{"field":"hi"}}}
]},
{"width":125,"height":129,"transform":[{"filter":"datum.r==2&&datum.c==7"}],"layer":[
{"transform":[{"filter":"datum.k=='c'"}],"mark":{"type":"line","color":"black","strokeWidth":1},"encoding":{"x":{"field":"x","type":"quantitative","scale":{"domain":[50,150],"padding":15,"zero":false,"nice":false},"axis":null},"y":{"field":"y","type":"quantitative","scale":{"domain":[262.39,2044],"zero":false,"nice":false},"axis":null}}},
{"transform":[{"filter":"datum.k=='r'"}],"mark":{"type":"rule","color":"#ff0000","strokeDash":[8,5],"strokeWidth":1.2},"encoding":{"y":{"field":"y","type":"quantitative","axis":null}}},
{"transform":[{"filter":"datum.k=='r'"}],"mark":{"type":"rule","color":"#ff0000","strokeDash":[8,5],"strokeWidth":1.2},"encoding":{"x":{"field":"x","type":"quantitative","axis":null}}},
{"transform":[{"filter":"datum.k=='e'"}],"mark":{"type":"errorbar","ticks":true,"color":"#0000ff","size":7,"thickness":1.3},"encoding":{"x":{"field":"x","type":"quantitative","axis":null},"y":{"field":"lo","type":"quantitative","axis":null},"y2":{"field":"hi"}}}
]},
{"width":125,"height":129,"transform":[{"filter":"datum.r==2&&datum.c==8"}],"layer":[
{"transform":[{"filter":"datum.k=='c'"}],"mark":{"type":"line","color":"black","strokeWidth":1},"encoding":{"x":{"field":"x","type":"quantitative","scale":{"domain":[1,20],"padding":15,"zero":false,"nice":false},"axis":null},"y":{"field":"y","type":"quantitative","scale":{"domain":[262.39,2044],"zero":false,"nice":false},"axis":null}}},
{"transform":[{"filter":"datum.k=='r'"}],"mark":{"type":"rule","color":"#ff0000","strokeDash":[8,5],"strokeWidth":1.2},"encoding":{"y":{"field":"y","type":"quantitative","axis":null}}},
{"transform":[{"filter":"datum.k=='r'"}],"mark":{"type":"rule","color":"#ff0000","strokeDash":[8,5],"strokeWidth":1.2},"encoding":{"x":{"field":"x","type":"quantitative","axis":null}}},
{"transform":[{"filter":"datum.k=='e'"}],"mark":{"type":"errorbar","ticks":true,"color":"#0000ff","size":7,"thickness":1.3},"encoding":{"x":{"field":"x","type":"quantitative","axis":null},"y":{"field":"lo","type":"quantitative","axis":null},"y2":{"field":"hi"}}}
]},
{"width":125,"height":129,"transform":[{"filter":"datum.r==2&&datum.c==9"}],"layer":[
{"transform":[{"filter":"datum.k=='c'"}],"mark":{"type":"line","color":"black","strokeWidth":1},"encoding":{"x":{"field":"x","type":"quantitative","scale":{"domain":[0.5,1],"padding":15,"zero":false,"nice":false},"axis":null},"y":{"field":"y","type":"quantitative","scale":{"domain":[262.39,2044],"zero":false,"nice":false},"axis":null}}},
{"transform":[{"filter":"datum.k=='r'"}],"mark":{"type":"rule","color":"#ff0000","strokeDash":[8,5],"strokeWidth":1.2},"encoding":{"y":{"field":"y","type":"quantitative","axis":null}}},
{"transform":[{"filter":"datum.k=='r'"}],"mark":{"type":"rule","color":"#ff0000","strokeDash":[8,5],"strokeWidth":1.2},"encoding":{"x":{"field":"x","type":"quantitative","axis":null}}},
{"transform":[{"filter":"datum.k=='e'"}],"mark":{"type":"errorbar","ticks":true,"color":"#0000ff","size":7,"thickness":1.3},"encoding":{"x":{"field":"x","type":"quantitative","axis":null},"y":{"field":"lo","type":"quantitative","axis":null},"y2":{"field":"hi"}}}
]},

{"width":125,"height":129,"transform":[{"filter":"datum.r==3&&datum.c==1"}],"resolve":{"axis":{"y":"independent"}},"layer":[
{"transform":[{"filter":"datum.k=='c'"}],"mark":{"type":"line","color":"black","strokeWidth":1},"encoding":{"x":{"field":"x","type":"quantitative","scale":{"domain":[100,250],"padding":15,"zero":false,"nice":false},"axis":null},"y":{"field":"y","type":"quantitative","scale":{"domain":[0.21115,0.544],"zero":false,"nice":false},"axis":{"orient":"left","values":[0.544,0.4893,0.4346,0.3799,0.3252,0.2705,0.2158],"labelExpr":"datum.value==0.544?'0.544':datum.value==0.3252?'0.3252':''","title":["Fuel","Consumption"],"titleX":-137.5,"titleY":50}}}},
{"transform":[{"filter":"datum.k=='r'"}],"mark":{"type":"rule","color":"#ff0000","strokeDash":[8,5],"strokeWidth":1.2},"encoding":{"y":{"field":"y","type":"quantitative","axis":{"orient":"left","values":[0.4346],"labelExpr":"'0.411334'","labelColor":"#ff0000","domain":false,"title":null}}}},
{"transform":[{"filter":"datum.k=='r'"}],"mark":{"type":"rule","color":"#ff0000","strokeDash":[8,5],"strokeWidth":1.2},"encoding":{"x":{"field":"x","type":"quantitative","axis":null}}},
{"transform":[{"filter":"datum.k=='e'"}],"mark":{"type":"errorbar","ticks":true,"color":"#0000ff","size":7,"thickness":1.3},"encoding":{"x":{"field":"x","type":"quantitative","axis":null},"y":{"field":"lo","type":"quantitative","axis":null},"y2":{"field":"hi"}}}
]},
{"width":125,"height":129,"transform":[{"filter":"datum.r==3&&datum.c==2"}],"layer":[
{"transform":[{"filter":"datum.k=='c'"}],"mark":{"type":"line","color":"black","strokeWidth":1},"encoding":{"x":{"field":"x","type":"quantitative","scale":{"domain":[400,1000],"padding":15,"zero":false,"nice":false},"axis":null},"y":{"field":"y","type":"quantitative","scale":{"domain":[0.21115,0.544],"zero":false,"nice":false},"axis":null}}},
{"transform":[{"filter":"datum.k=='r'"}],"mark":{"type":"rule","color":"#ff0000","strokeDash":[8,5],"strokeWidth":1.2},"encoding":{"y":{"field":"y","type":"quantitative","axis":null}}},
{"transform":[{"filter":"datum.k=='r'"}],"mark":{"type":"rule","color":"#ff0000","strokeDash":[8,5],"strokeWidth":1.2},"encoding":{"x":{"field":"x","type":"quantitative","axis":null}}},
{"transform":[{"filter":"datum.k=='e'"}],"mark":{"type":"errorbar","ticks":true,"color":"#0000ff","size":7,"thickness":1.3},"encoding":{"x":{"field":"x","type":"quantitative","axis":null},"y":{"field":"lo","type":"quantitative","axis":null},"y2":{"field":"hi"}}}
]},
{"width":125,"height":129,"transform":[{"filter":"datum.r==3&&datum.c==3"}],"layer":[
{"transform":[{"filter":"datum.k=='c'"}],"mark":{"type":"line","color":"black","strokeWidth":1},"encoding":{"x":{"field":"x","type":"quantitative","scale":{"domain":[350,550],"padding":15,"zero":false,"nice":false},"axis":null},"y":{"field":"y","type":"quantitative","scale":{"domain":[0.21115,0.544],"zero":false,"nice":false},"axis":null}}},
{"transform":[{"filter":"datum.k=='r'"}],"mark":{"type":"rule","color":"#ff0000","strokeDash":[8,5],"strokeWidth":1.2},"encoding":{"y":{"field":"y","type":"quantitative","axis":null}}},
{"transform":[{"filter":"datum.k=='r'"}],"mark":{"type":"rule","color":"#ff0000","strokeDash":[8,5],"strokeWidth":1.2},"encoding":{"x":{"field":"x","type":"quantitative","axis":null}}},
{"transform":[{"filter":"datum.k=='e'"}],"mark":{"type":"errorbar","ticks":true,"color":"#0000ff","size":7,"thickness":1.3},"encoding":{"x":{"field":"x","type":"quantitative","axis":null},"y":{"field":"lo","type":"quantitative","axis":null},"y2":{"field":"hi"}}}
]},
{"width":125,"height":129,"transform":[{"filter":"datum.r==3&&datum.c==4"}],"layer":[
{"transform":[{"filter":"datum.k=='c'"}],"mark":{"type":"line","color":"black","strokeWidth":1},"encoding":{"x":{"field":"x","type":"quantitative","scale":{"domain":[115,200],"padding":15,"zero":false,"nice":false},"axis":null},"y":{"field":"y","type":"quantitative","scale":{"domain":[0.21115,0.544],"zero":false,"nice":false},"axis":null}}},
{"transform":[{"filter":"datum.k=='r'"}],"mark":{"type":"rule","color":"#ff0000","strokeDash":[8,5],"strokeWidth":1.2},"encoding":{"y":{"field":"y","type":"quantitative","axis":null}}},
{"transform":[{"filter":"datum.k=='r'"}],"mark":{"type":"rule","color":"#ff0000","strokeDash":[8,5],"strokeWidth":1.2},"encoding":{"x":{"field":"x","type":"quantitative","axis":null}}},
{"transform":[{"filter":"datum.k=='e'"}],"mark":{"type":"errorbar","ticks":true,"color":"#0000ff","size":7,"thickness":1.3},"encoding":{"x":{"field":"x","type":"quantitative","axis":null},"y":{"field":"lo","type":"quantitative","axis":null},"y2":{"field":"hi"}}}
]},
{"width":125,"height":129,"transform":[{"filter":"datum.r==3&&datum.c==5"}],"layer":[
{"transform":[{"filter":"datum.k=='c'"}],"mark":{"type":"line","color":"black","strokeWidth":1},"encoding":{"x":{"field":"x","type":"quantitative","scale":{"domain":[1000,50000],"padding":15,"zero":false,"nice":false},"axis":null},"y":{"field":"y","type":"quantitative","scale":{"domain":[0.21115,0.544],"zero":false,"nice":false},"axis":null}}},
{"transform":[{"filter":"datum.k=='r'"}],"mark":{"type":"rule","color":"#ff0000","strokeDash":[8,5],"strokeWidth":1.2},"encoding":{"y":{"field":"y","type":"quantitative","axis":null}}},
{"transform":[{"filter":"datum.k=='r'"}],"mark":{"type":"rule","color":"#ff0000","strokeDash":[8,5],"strokeWidth":1.2},"encoding":{"x":{"field":"x","type":"quantitative","axis":null}}},
{"transform":[{"filter":"datum.k=='e'"}],"mark":{"type":"errorbar","ticks":true,"color":"#0000ff","size":7,"thickness":1.3},"encoding":{"x":{"field":"x","type":"quantitative","axis":null},"y":{"field":"lo","type":"quantitative","axis":null},"y2":{"field":"hi"}}}
]},
{"width":125,"height":129,"transform":[{"filter":"datum.r==3&&datum.c==6"}],"layer":[
{"transform":[{"filter":"datum.k=='c'"}],"mark":{"type":"line","color":"black","strokeWidth":1},"encoding":{"x":{"field":"x","type":"quantitative","scale":{"domain":[50,150],"padding":15,"zero":false,"nice":false},"axis":null},"y":{"field":"y","type":"quantitative","scale":{"domain":[0.21115,0.544],"zero":false,"nice":false},"axis":null}}},
{"transform":[{"filter":"datum.k=='r'"}],"mark":{"type":"rule","color":"#ff0000","strokeDash":[8,5],"strokeWidth":1.2},"encoding":{"y":{"field":"y","type":"quantitative","axis":null}}},
{"transform":[{"filter":"datum.k=='r'"}],"mark":{"type":"rule","color":"#ff0000","strokeDash":[8,5],"strokeWidth":1.2},"encoding":{"x":{"field":"x","type":"quantitative","axis":null}}},
{"transform":[{"filter":"datum.k=='e'"}],"mark":{"type":"errorbar","ticks":true,"color":"#0000ff","size":7,"thickness":1.3},"encoding":{"x":{"field":"x","type":"quantitative","axis":null},"y":{"field":"lo","type":"quantitative","axis":null},"y2":{"field":"hi"}}}
]},
{"width":125,"height":129,"transform":[{"filter":"datum.r==3&&datum.c==7"}],"layer":[
{"transform":[{"filter":"datum.k=='c'"}],"mark":{"type":"line","color":"black","strokeWidth":1},"encoding":{"x":{"field":"x","type":"quantitative","scale":{"domain":[50,150],"padding":15,"zero":false,"nice":false},"axis":null},"y":{"field":"y","type":"quantitative","scale":{"domain":[0.21115,0.544],"zero":false,"nice":false},"axis":null}}},
{"transform":[{"filter":"datum.k=='r'"}],"mark":{"type":"rule","color":"#ff0000","strokeDash":[8,5],"strokeWidth":1.2},"encoding":{"y":{"field":"y","type":"quantitative","axis":null}}},
{"transform":[{"filter":"datum.k=='r'"}],"mark":{"type":"rule","color":"#ff0000","strokeDash":[8,5],"strokeWidth":1.2},"encoding":{"x":{"field":"x","type":"quantitative","axis":null}}},
{"transform":[{"filter":"datum.k=='e'"}],"mark":{"type":"errorbar","ticks":true,"color":"#0000ff","size":7,"thickness":1.3},"encoding":{"x":{"field":"x","type":"quantitative","axis":null},"y":{"field":"lo","type":"quantitative","axis":null},"y2":{"field":"hi"}}}
]},
{"width":125,"height":129,"transform":[{"filter":"datum.r==3&&datum.c==8"}],"layer":[
{"transform":[{"filter":"datum.k=='c'"}],"mark":{"type":"line","color":"black","strokeWidth":1},"encoding":{"x":{"field":"x","type":"quantitative","scale":{"domain":[1,20],"padding":15,"zero":false,"nice":false},"axis":null},"y":{"field":"y","type":"quantitative","scale":{"domain":[0.21115,0.544],"zero":false,"nice":false},"axis":null}}},
{"transform":[{"filter":"datum.k=='r'"}],"mark":{"type":"rule","color":"#ff0000","strokeDash":[8,5],"strokeWidth":1.2},"encoding":{"y":{"field":"y","type":"quantitative","axis":null}}},
{"transform":[{"filter":"datum.k=='r'"}],"mark":{"type":"rule","color":"#ff0000","strokeDash":[8,5],"strokeWidth":1.2},"encoding":{"x":{"field":"x","type":"quantitative","axis":null}}},
{"transform":[{"filter":"datum.k=='e'"}],"mark":{"type":"errorbar","ticks":true,"color":"#0000ff","size":7,"thickness":1.3},"encoding":{"x":{"field":"x","type":"quantitative","axis":null},"y":{"field":"lo","type":"quantitative","axis":null},"y2":{"field":"hi"}}}
]},
{"width":125,"height":129,"transform":[{"filter":"datum.r==3&&datum.c==9"}],"layer":[
{"transform":[{"filter":"datum.k=='c'"}],"mark":{"type":"line","color":"black","strokeWidth":1},"encoding":{"x":{"field":"x","type":"quantitative","scale":{"domain":[0.5,1],"padding":15,"zero":false,"nice":false},"axis":null},"y":{"field":"y","type":"quantitative","scale":{"domain":[0.21115,0.544],"zero":false,"nice":false},"axis":null}}},
{"transform":[{"filter":"datum.k=='r'"}],"mark":{"type":"rule","color":"#ff0000","strokeDash":[8,5],"strokeWidth":1.2},"encoding":{"y":{"field":"y","type":"quantitative","axis":null}}},
{"transform":[{"filter":"datum.k=='r'"}],"mark":{"type":"rule","color":"#ff0000","strokeDash":[8,5],"strokeWidth":1.2},"encoding":{"x":{"field":"x","type":"quantitative","axis":null}}},
{"transform":[{"filter":"datum.k=='e'"}],"mark":{"type":"errorbar","ticks":true,"color":"#0000ff","size":7,"thickness":1.3},"encoding":{"x":{"field":"x","type":"quantitative","axis":null},"y":{"field":"lo","type":"quantitative","axis":null},"y2":{"field":"hi"}}}
]},

{"width":125,"height":129,"transform":[{"filter":"datum.r==4&&datum.c==1"}],"resolve":{"axis":{"x":"independent","y":"independent"}},"layer":[
{"transform":[{"filter":"datum.k=='c'"}],"mark":{"type":"line","color":"black","strokeWidth":1},"encoding":{"x":{"field":"x","type":"quantitative","scale":{"domain":[100,250],"padding":15,"zero":false,"nice":false},"axis":{"orient":"bottom","values":[100,250],"labelExpr":"datum.value+''","title":null}},"y":{"field":"y","type":"quantitative","scale":{"domain":[4053.2,16054],"zero":false,"nice":false},"axis":{"orient":"left","values":[16054,14081.8,12109.6,10137.4,8165.2,6193,4220.8],"labelExpr":"datum.value==16054?'16054':datum.value==8165.2?'8165.2':''","title":["$ O&S","Cost"],"titleX":-128.5,"titleY":47.3}}}},
{"transform":[{"filter":"datum.k=='r'"}],"mark":{"type":"rule","color":"#ff0000","strokeDash":[8,5],"strokeWidth":1.2},"encoding":{"y":{"field":"y","type":"quantitative","axis":{"orient":"left","values":[12109.6],"labelExpr":"'11618.82'","labelColor":"#ff0000","domain":false,"title":null}}}},
{"transform":[{"filter":"datum.k=='r'"}],"mark":{"type":"rule","color":"#ff0000","strokeDash":[8,5],"strokeWidth":1.2},"encoding":{"x":{"field":"x","type":"quantitative","axis":{"orient":"bottom","values":[175],"labelExpr":"datum.value+''","labelAngle":0,"labelColor":"#ff0000","tickColor":"#ff0000","labelPadding":15,"domain":false,"title":["Service","Radius"],"titleY":83.6,"titleBaseline":"alphabetic","titleLineHeight":24}}}},
{"transform":[{"filter":"datum.k=='e'"}],"mark":{"type":"errorbar","ticks":true,"color":"#0000ff","size":7,"thickness":1.3},"encoding":{"x":{"field":"x","type":"quantitative","axis":null},"y":{"field":"lo","type":"quantitative","axis":null},"y2":{"field":"hi"}}}
]},
{"width":125,"height":129,"transform":[{"filter":"datum.r==4&&datum.c==2"}],"resolve":{"axis":{"x":"independent"}},"layer":[
{"transform":[{"filter":"datum.k=='c'"}],"mark":{"type":"line","color":"black","strokeWidth":1},"encoding":{"x":{"field":"x","type":"quantitative","scale":{"domain":[400,1000],"padding":15,"zero":false,"nice":false},"axis":{"orient":"bottom","values":[400,1000],"labelExpr":"datum.value+''","title":null}},"y":{"field":"y","type":"quantitative","scale":{"domain":[4053.2,16054],"zero":false,"nice":false},"axis":null}}},
{"transform":[{"filter":"datum.k=='r'"}],"mark":{"type":"rule","color":"#ff0000","strokeDash":[8,5],"strokeWidth":1.2},"encoding":{"y":{"field":"y","type":"quantitative","axis":null}}},
{"transform":[{"filter":"datum.k=='r'"}],"mark":{"type":"rule","color":"#ff0000","strokeDash":[8,5],"strokeWidth":1.2},"encoding":{"x":{"field":"x","type":"quantitative","axis":{"orient":"bottom","values":[700],"labelExpr":"datum.value+''","labelAngle":0,"labelColor":"#ff0000","tickColor":"#ff0000","labelPadding":15,"domain":false,"title":["# of","Customers"],"titleY":83.6,"titleBaseline":"alphabetic","titleLineHeight":24}}}},
{"transform":[{"filter":"datum.k=='e'"}],"mark":{"type":"errorbar","ticks":true,"color":"#0000ff","size":7,"thickness":1.3},"encoding":{"x":{"field":"x","type":"quantitative","axis":null},"y":{"field":"lo","type":"quantitative","axis":null},"y2":{"field":"hi"}}}
]},
{"width":125,"height":129,"transform":[{"filter":"datum.r==4&&datum.c==3"}],"resolve":{"axis":{"x":"independent"}},"layer":[
{"transform":[{"filter":"datum.k=='c'"}],"mark":{"type":"line","color":"black","strokeWidth":1},"encoding":{"x":{"field":"x","type":"quantitative","scale":{"domain":[350,550],"padding":15,"zero":false,"nice":false},"axis":{"orient":"bottom","values":[350,550],"labelExpr":"datum.value+''","title":null}},"y":{"field":"y","type":"quantitative","scale":{"domain":[4053.2,16054],"zero":false,"nice":false},"axis":null}}},
{"transform":[{"filter":"datum.k=='r'"}],"mark":{"type":"rule","color":"#ff0000","strokeDash":[8,5],"strokeWidth":1.2},"encoding":{"y":{"field":"y","type":"quantitative","axis":null}}},
{"transform":[{"filter":"datum.k=='r'"}],"mark":{"type":"rule","color":"#ff0000","strokeDash":[8,5],"strokeWidth":1.2},"encoding":{"x":{"field":"x","type":"quantitative","axis":{"orient":"bottom","values":[450],"labelExpr":"datum.value+''","labelAngle":0,"labelColor":"#ff0000","tickColor":"#ff0000","labelPadding":15,"domain":false,"title":["Vehicle","Range"],"titleY":83.6,"titleBaseline":"alphabetic","titleLineHeight":24}}}},
{"transform":[{"filter":"datum.k=='e'"}],"mark":{"type":"errorbar","ticks":true,"color":"#0000ff","size":7,"thickness":1.3},"encoding":{"x":{"field":"x","type":"quantitative","axis":null},"y":{"field":"lo","type":"quantitative","axis":null},"y2":{"field":"hi"}}}
]},
{"width":125,"height":129,"transform":[{"filter":"datum.r==4&&datum.c==4"}],"resolve":{"axis":{"x":"independent"}},"layer":[
{"transform":[{"filter":"datum.k=='c'"}],"mark":{"type":"line","color":"black","strokeWidth":1},"encoding":{"x":{"field":"x","type":"quantitative","scale":{"domain":[115,200],"padding":15,"zero":false,"nice":false},"axis":{"orient":"bottom","values":[115,200],"labelExpr":"datum.value+''","title":null}},"y":{"field":"y","type":"quantitative","scale":{"domain":[4053.2,16054],"zero":false,"nice":false},"axis":null}}},
{"transform":[{"filter":"datum.k=='r'"}],"mark":{"type":"rule","color":"#ff0000","strokeDash":[8,5],"strokeWidth":1.2},"encoding":{"y":{"field":"y","type":"quantitative","axis":null}}},
{"transform":[{"filter":"datum.k=='r'"}],"mark":{"type":"rule","color":"#ff0000","strokeDash":[8,5],"strokeWidth":1.2},"encoding":{"x":{"field":"x","type":"quantitative","axis":{"orient":"bottom","values":[157.2],"labelExpr":"datum.value+''","labelAngle":0,"labelColor":"#ff0000","tickColor":"#ff0000","labelPadding":15,"domain":false,"title":["Vehicle","Speed"],"titleY":83.6,"titleBaseline":"alphabetic","titleLineHeight":24}}}},
{"transform":[{"filter":"datum.k=='e'"}],"mark":{"type":"errorbar","ticks":true,"color":"#0000ff","size":7,"thickness":1.3},"encoding":{"x":{"field":"x","type":"quantitative","axis":null},"y":{"field":"lo","type":"quantitative","axis":null},"y2":{"field":"hi"}}}
]},
{"width":125,"height":129,"transform":[{"filter":"datum.r==4&&datum.c==5"}],"resolve":{"axis":{"x":"independent"}},"layer":[
{"transform":[{"filter":"datum.k=='c'"}],"mark":{"type":"line","color":"black","strokeWidth":1},"encoding":{"x":{"field":"x","type":"quantitative","scale":{"domain":[1000,50000],"padding":15,"zero":false,"nice":false},"axis":{"orient":"bottom","values":[1000,50000],"labelExpr":"datum.value+''","title":null}},"y":{"field":"y","type":"quantitative","scale":{"domain":[4053.2,16054],"zero":false,"nice":false},"axis":null}}},
{"transform":[{"filter":"datum.k=='r'"}],"mark":{"type":"rule","color":"#ff0000","strokeDash":[8,5],"strokeWidth":1.2},"encoding":{"y":{"field":"y","type":"quantitative","axis":null}}},
{"transform":[{"filter":"datum.k=='r'"}],"mark":{"type":"rule","color":"#ff0000","strokeDash":[8,5],"strokeWidth":1.2},"encoding":{"x":{"field":"x","type":"quantitative","axis":{"orient":"bottom","values":[25500],"labelExpr":"datum.value+''","labelAngle":0,"labelColor":"#ff0000","tickColor":"#ff0000","labelPadding":15,"domain":false,"title":["Vehicle Acq.","Cost"],"titleY":83.6,"titleBaseline":"alphabetic","titleLineHeight":24}}}},
{"transform":[{"filter":"datum.k=='e'"}],"mark":{"type":"errorbar","ticks":true,"color":"#0000ff","size":7,"thickness":1.3},"encoding":{"x":{"field":"x","type":"quantitative","axis":null},"y":{"field":"lo","type":"quantitative","axis":null},"y2":{"field":"hi"}}}
]},
{"width":125,"height":129,"transform":[{"filter":"datum.r==4&&datum.c==6"}],"resolve":{"axis":{"x":"independent"}},"layer":[
{"transform":[{"filter":"datum.k=='c'"}],"mark":{"type":"line","color":"black","strokeWidth":1},"encoding":{"x":{"field":"x","type":"quantitative","scale":{"domain":[50,150],"padding":15,"zero":false,"nice":false},"axis":{"orient":"bottom","values":[50,150],"labelExpr":"datum.value+''","title":null}},"y":{"field":"y","type":"quantitative","scale":{"domain":[4053.2,16054],"zero":false,"nice":false},"axis":null}}},
{"transform":[{"filter":"datum.k=='r'"}],"mark":{"type":"rule","color":"#ff0000","strokeDash":[8,5],"strokeWidth":1.2},"encoding":{"y":{"field":"y","type":"quantitative","axis":null}}},
{"transform":[{"filter":"datum.k=='r'"}],"mark":{"type":"rule","color":"#ff0000","strokeDash":[8,5],"strokeWidth":1.2},"encoding":{"x":{"field":"x","type":"quantitative","axis":{"orient":"bottom","values":[100],"labelExpr":"datum.value+''","labelAngle":0,"labelColor":"#ff0000","tickColor":"#ff0000","labelPadding":15,"domain":false,"title":"Labor Cost","titleY":83.6,"titleBaseline":"alphabetic","titleLineHeight":24}}}},
{"transform":[{"filter":"datum.k=='e'"}],"mark":{"type":"errorbar","ticks":true,"color":"#0000ff","size":7,"thickness":1.3},"encoding":{"x":{"field":"x","type":"quantitative","axis":null},"y":{"field":"lo","type":"quantitative","axis":null},"y2":{"field":"hi"}}}
]},
{"width":125,"height":129,"transform":[{"filter":"datum.r==4&&datum.c==7"}],"resolve":{"axis":{"x":"independent"}},"layer":[
{"transform":[{"filter":"datum.k=='c'"}],"mark":{"type":"line","color":"black","strokeWidth":1},"encoding":{"x":{"field":"x","type":"quantitative","scale":{"domain":[50,150],"padding":15,"zero":false,"nice":false},"axis":{"orient":"bottom","values":[50,150],"labelExpr":"datum.value+''","title":null}},"y":{"field":"y","type":"quantitative","scale":{"domain":[4053.2,16054],"zero":false,"nice":false},"axis":null}}},
{"transform":[{"filter":"datum.k=='r'"}],"mark":{"type":"rule","color":"#ff0000","strokeDash":[8,5],"strokeWidth":1.2},"encoding":{"y":{"field":"y","type":"quantitative","axis":null}}},
{"transform":[{"filter":"datum.k=='r'"}],"mark":{"type":"rule","color":"#ff0000","strokeDash":[8,5],"strokeWidth":1.2},"encoding":{"x":{"field":"x","type":"quantitative","axis":{"orient":"bottom","values":[100],"labelExpr":"datum.value+''","labelAngle":0,"labelColor":"#ff0000","tickColor":"#ff0000","labelPadding":15,"domain":false,"title":["Maintenance","Cost"],"titleY":83.6,"titleBaseline":"alphabetic","titleLineHeight":24}}}},
{"transform":[{"filter":"datum.k=='e'"}],"mark":{"type":"errorbar","ticks":true,"color":"#0000ff","size":7,"thickness":1.3},"encoding":{"x":{"field":"x","type":"quantitative","axis":null},"y":{"field":"lo","type":"quantitative","axis":null},"y2":{"field":"hi"}}}
]},
{"width":125,"height":129,"transform":[{"filter":"datum.r==4&&datum.c==8"}],"resolve":{"axis":{"x":"independent"}},"layer":[
{"transform":[{"filter":"datum.k=='c'"}],"mark":{"type":"line","color":"black","strokeWidth":1},"encoding":{"x":{"field":"x","type":"quantitative","scale":{"domain":[1,20],"padding":15,"zero":false,"nice":false},"axis":{"orient":"bottom","values":[1,20],"labelExpr":"datum.value+''","title":null}},"y":{"field":"y","type":"quantitative","scale":{"domain":[4053.2,16054],"zero":false,"nice":false},"axis":null}}},
{"transform":[{"filter":"datum.k=='r'"}],"mark":{"type":"rule","color":"#ff0000","strokeDash":[8,5],"strokeWidth":1.2},"encoding":{"y":{"field":"y","type":"quantitative","axis":null}}},
{"transform":[{"filter":"datum.k=='r'"}],"mark":{"type":"rule","color":"#ff0000","strokeDash":[8,5],"strokeWidth":1.2},"encoding":{"x":{"field":"x","type":"quantitative","axis":{"orient":"bottom","values":[10.5],"labelExpr":"datum.value+''","labelAngle":0,"labelColor":"#ff0000","tickColor":"#ff0000","labelPadding":15,"domain":false,"title":["Maintenance","Labor Cost"],"titleY":83.6,"titleBaseline":"alphabetic","titleLineHeight":24}}}},
{"transform":[{"filter":"datum.k=='e'"}],"mark":{"type":"errorbar","ticks":true,"color":"#0000ff","size":7,"thickness":1.3},"encoding":{"x":{"field":"x","type":"quantitative","axis":null},"y":{"field":"lo","type":"quantitative","axis":null},"y2":{"field":"hi"}}}
]},
{"width":125,"height":129,"transform":[{"filter":"datum.r==4&&datum.c==9"}],"resolve":{"axis":{"x":"independent"}},"layer":[
{"transform":[{"filter":"datum.k=='c'"}],"mark":{"type":"line","color":"black","strokeWidth":1},"encoding":{"x":{"field":"x","type":"quantitative","scale":{"domain":[0.5,1],"padding":15,"zero":false,"nice":false},"axis":{"orient":"bottom","values":[0.5,1],"labelExpr":"datum.value+''","title":null}},"y":{"field":"y","type":"quantitative","scale":{"domain":[4053.2,16054],"zero":false,"nice":false},"axis":null}}},
{"transform":[{"filter":"datum.k=='r'"}],"mark":{"type":"rule","color":"#ff0000","strokeDash":[8,5],"strokeWidth":1.2},"encoding":{"y":{"field":"y","type":"quantitative","axis":null}}},
{"transform":[{"filter":"datum.k=='r'"}],"mark":{"type":"rule","color":"#ff0000","strokeDash":[8,5],"strokeWidth":1.2},"encoding":{"x":{"field":"x","type":"quantitative","axis":{"orient":"bottom","values":[0.75],"labelExpr":"datum.value+''","labelAngle":0,"labelColor":"#ff0000","tickColor":"#ff0000","labelPadding":15,"domain":false,"title":"Fuel Cost","titleY":83.6,"titleBaseline":"alphabetic","titleLineHeight":24}}}},
{"transform":[{"filter":"datum.k=='e'"}],"mark":{"type":"errorbar","ticks":true,"color":"#0000ff","size":7,"thickness":1.3},"encoding":{"x":{"field":"x","type":"quantitative","axis":null},"y":{"field":"lo","type":"quantitative","axis":null},"y2":{"field":"hi"}}}
]}
]
}
